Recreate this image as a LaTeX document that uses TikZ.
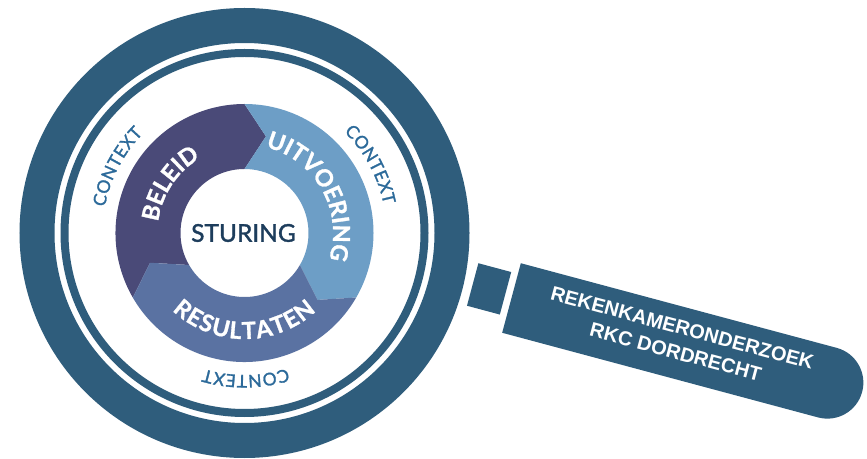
\documentclass[tikz,border=0pt]{standalone}
\usepackage{fontspec}
\setmainfont{Lato}
\newfontfamily\latofont{Lato}
\newfontfamily\latoheavy{Lato}[FakeBold=1.2]
\newfontfamily\latomed{Lato}[FakeBold=1.5]
\newfontfamily\handlefont{Liberation Sans}
\usetikzlibrary{decorations.text}
\definecolor{ringcol}{HTML}{2F5D7C}
\definecolor{beleidcol}{HTML}{4A4A78}
\definecolor{uitvcol}{HTML}{6D9EC6}
\definecolor{resultcol}{HTML}{5A72A2}
\definecolor{ctxcol}{HTML}{2C6A9A}
\definecolor{sturcol}{HTML}{1D3D5C}
\newcommand\segfont{\latoheavy\bfseries\fontsize{23.5}{23.5}\selectfont}
\newcommand\ctxfont{\latomed\fontsize{17.5}{17.5}\selectfont}
\tikzset{
  lensring/.style={draw=ringcol},
  segbeleid/.style={fill=beleidcol},
  seguitv/.style={fill=uitvcol},
  segresult/.style={fill=resultcol},
  ctxtext/.style={decorate, decoration={text along path, text align=fit to path, text color=ctxcol, text={|\ctxfont|CONTEXT}}},
  segtext/.style={decorate, decoration={text along path, text align=center, text color=white, text={|\segfont|#1}}},
  segfittext/.style={decorate, decoration={text along path, text align=fit to path, text color=white, text={|\segfont|#1}}},
  sturtext/.style={font=\latomed\fontsize{24.5}{24.5}\selectfont, text=sturcol, inner sep=0pt},
  handlepart/.style={fill=ringcol},
  handletext/.style={font=\handlefont\bfseries\fontsize{20}{25}\selectfont, text=white, align=center, inner sep=0pt}
}
\begin{document}
\begin{tikzpicture}[x=1pt,y=1pt]
\useasboundingbox (0,0) rectangle (867,458);
\fill[white] (0,0) rectangle (867,458);
\begin{scope}[shift={(244.5,225)}]
  % lens rings
  \draw[lensring, line width=35] (0,0) circle[radius=207.5];
  \draw[lensring, line width=8] (0,0) circle[radius=180];
  % segments
  \fill[segbeleid] (210:129) arc[start angle=210, end angle=90, radius=129]
     -- (77.5:99) -- (90:64) arc[start angle=90, end angle=210, radius=64]
     -- (197.5:99) -- cycle;
  \fill[seguitv] (90:129) arc[start angle=90, end angle=-30, radius=129]
     -- (-42.5:99) -- (-30:64) arc[start angle=-30, end angle=90, radius=64]
     -- (77.5:99) -- cycle;
  \fill[segresult] (-30:129) arc[start angle=-30, end angle=-150, radius=129]
     -- (-162.5:99) -- (-150:64) arc[start angle=-150, end angle=-30, radius=64]
     -- (-42.5:99) -- cycle;
  % centre
  \node[sturtext] (sturing) at (-1,0) {STURING};
  % segment labels
  \path[segtext=BELEID] (206.5:87) arc[start angle=206.5, end angle=86.5, radius=87];
  \path[segtext=UITVOERING] (119.5:88.5) arc[start angle=119.5, end angle=-60.5, radius=88.5];
  \path[segfittext=RESULTATEN] (227:106) arc[start angle=227, end angle=312.5, radius=106];
  % context labels
  \path[ctxtext] (169.5:142) arc[start angle=169.5, end angle=135.5, radius=142];
  \path[ctxtext] (45.5:142) arc[start angle=45.5, end angle=11.5, radius=142];
  \path[ctxtext] (287.5:142) arc[start angle=287.5, end angle=253.5, radius=142];
\end{scope}
% handle
\begin{scope}[shift={(511.5,160)}, rotate=-15]
  \fill[handlepart] (-41,-19) rectangle (-7,25);
  \fill[handlepart] (0,-36) -- (327,-36) arc[start angle=-90, end angle=90, radius=36] -- (0,36) -- cycle;
\end{scope}
\node[handletext, rotate=-15] (rkc) at (679,118) {REKENKAMERONDERZOEK\\RKC DORDRECHT};
\end{tikzpicture}
\end{document}
